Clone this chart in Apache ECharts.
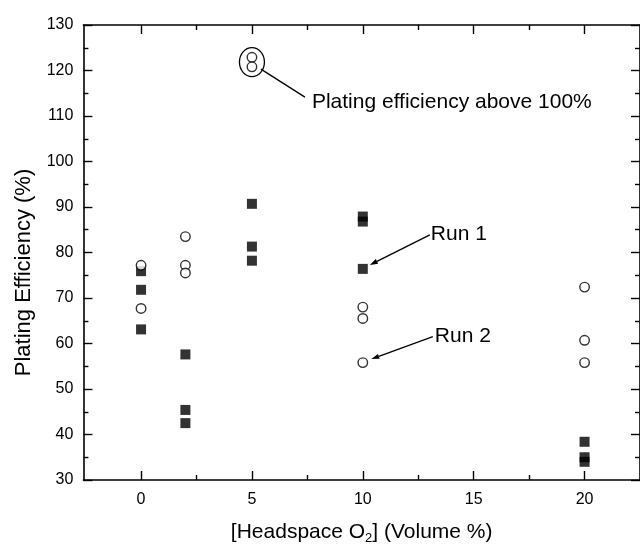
<!DOCTYPE html>
<html>
<head>
<meta charset="utf-8">
<script src="https://cdn.jsdelivr.net/npm/echarts@6/dist/echarts.min.js"></script>
<style>
  html, body { margin: 0; padding: 0; background: #fff; }
  #chart { width: 640px; height: 544px; }
</style>
</head>
<body>
<div id="chart"></div>
<script>
// Headspace O2 (volume %) and plating efficiency (%) for the two runs
const run1X = [0, 0, 0, 2, 2, 2, 5, 5, 5, 10, 10, 10, 20, 20, 20];
const run1Y = [75.9, 71.8, 63.1, 57.6, 45.4, 42.5, 90.7, 81.3, 78.2, 87.9, 86.8, 76.4, 38.4, 35.0, 34.0];
const run2X = [0, 0, 2, 2, 2, 5, 5, 10, 10, 10, 20, 20, 20];
const run2Y = [77.2, 67.7, 83.5, 77.2, 75.5, 122.9, 120.8, 68.0, 65.5, 55.8, 72.4, 60.7, 55.8];

// Axis ticks
const xMajorTicks = [0, 5, 10, 15, 20];
const xMinorTicks = [2.5, 7.5, 12.5, 17.5];

// Text
const xTitle = '[Headspace O{sub|2}] (Volume %)';
const yTitle = 'Plating Efficiency (%)';
const highNote = 'Plating efficiency above 100%';
const run1Label = 'Run 1';
const run2Label = 'Run 2';

const FONT = "'Liberation Sans', Arial, sans-serif";
const INK = '#000';

const chart = echarts.init(document.getElementById('chart'), null, { renderer: 'canvas' });

const lineStyle = { color: INK, width: 1.6 };
const tickStyle = { color: INK, width: 1.4 };

function xAxisDef(position, ticks, len, withLine, withLabels) {
  return {
    type: 'value',
    position: position,
    min: -2.6,
    max: 22.5,
    axisLine: { show: withLine, onZero: false, lineStyle: lineStyle },
    axisTick: { show: true, inside: true, length: len, customValues: ticks, lineStyle: tickStyle },
    axisLabel: withLabels
      ? { show: true, customValues: xMajorTicks, margin: 12, color: INK, fontSize: 16, fontFamily: FONT }
      : { show: false },
    splitLine: { show: false }
  };
}

function yAxisDef(position, withLabels) {
  return {
    type: 'value',
    position: position,
    min: 30,
    max: 130,
    interval: 10,
    axisLine: { show: true, onZero: false, lineStyle: lineStyle },
    axisTick: { show: true, inside: true, length: 9, lineStyle: tickStyle },
    minorTick: { show: true, splitNumber: 2, length: 5, lineStyle: tickStyle },
    axisLabel: withLabels
      ? { show: true, margin: 10, color: INK, fontSize: 16, fontFamily: FONT }
      : { show: false },
    splitLine: { show: false },
    minorSplitLine: { show: false }
  };
}

chart.setOption({
  animation: false,
  backgroundColor: '#fff',
  grid: { left: 83.4, top: 25, width: 559, height: 455, containLabel: false },
  xAxis: [
    xAxisDef('bottom', xMajorTicks, 9, true, true),
    xAxisDef('bottom', xMinorTicks, 5, false, false),
    xAxisDef('top', xMajorTicks, 9, true, false),
    xAxisDef('top', xMinorTicks, 5, false, false)
  ],
  yAxis: [yAxisDef('left', true), yAxisDef('right', false)],
  series: [
    {
      name: run1Label,
      type: 'scatter',
      xAxisIndex: 0,
      yAxisIndex: 0,
      symbol: 'rect',
      symbolSize: 10,
      itemStyle: { color: INK },
      data: run1X.map((x, i) => [x, run1Y[i]])
    },
    {
      name: run2Label,
      type: 'scatter',
      xAxisIndex: 0,
      yAxisIndex: 0,
      symbol: 'circle',
      symbolSize: 9.5,
      itemStyle: { color: '#fff', borderColor: INK, borderWidth: 1.4 },
      data: run2X.map((x, i) => [x, run2Y[i]])
    }
  ]
});

// Annotations placed relative to the points they describe
const toPx = (x, y) => chart.convertToPixel({ gridIndex: 0 }, [x, y]);

function arrow(tail, tip) {
  const dx = tip[0] - tail[0], dy = tip[1] - tail[1];
  const len = Math.hypot(dx, dy);
  const ux = dx / len, uy = dy / len;
  const headLen = 8, headHalf = 2.6;
  const bx = tip[0] - ux * headLen, by = tip[1] - uy * headLen;
  return [
    {
      type: 'line',
      shape: { x1: tail[0], y1: tail[1], x2: bx, y2: by },
      style: { stroke: INK, lineWidth: 1.3 },
      silent: true
    },
    {
      type: 'polygon',
      shape: { points: [tip, [bx - uy * headHalf, by + ux * headHalf], [bx + uy * headHalf, by - ux * headHalf]] },
      style: { fill: INK },
      silent: true
    }
  ];
}

const high = run2X.map((x, i) => [x, run2Y[i]]).filter(p => p[1] > 100);
const highCenter = toPx(high[0][0], high.reduce((s, p) => s + p[1], 0) / high.length);
const r1 = toPx(run1X[11], run1Y[11]);
const r2 = toPx(run2X[9], run2Y[9]);
const gridRect = { x: toPx(-2.6, 30)[0], y: toPx(0, 130)[1], x2: toPx(22.5, 30)[0], y2: toPx(0, 30)[1] };

const graphics = [
  {
    type: 'ellipse',
    shape: { cx: highCenter[0], cy: highCenter[1], rx: 12.5, ry: 14.5 },
    style: { fill: 'none', stroke: INK, lineWidth: 1.3 },
    silent: true
  },
  {
    type: 'line',
    shape: { x1: highCenter[0] + 9, y1: highCenter[1] + 7, x2: highCenter[0] + 53, y2: highCenter[1] + 35 },
    style: { stroke: INK, lineWidth: 1.3 },
    silent: true
  },
  {
    type: 'text',
    x: highCenter[0] + 60,
    y: highCenter[1] + 40,
    style: { text: highNote, fill: INK, font: '21px ' + FONT, align: 'left', verticalAlign: 'middle' },
    silent: true
  },
  ...arrow([r1[0] + 67, r1[1] - 34], [r1[0] + 7, r1[1] - 4]),
  {
    type: 'text',
    x: r1[0] + 68,
    y: r1[1] - 35,
    style: { text: run1Label, fill: INK, font: '21px ' + FONT, align: 'left', verticalAlign: 'middle' },
    silent: true
  },
  ...arrow([r2[0] + 70, r2[1] - 26], [r2[0] + 8.5, r2[1] - 3.5]),
  {
    type: 'text',
    x: r2[0] + 72,
    y: r2[1] - 26,
    style: { text: run2Label, fill: INK, font: '21px ' + FONT, align: 'left', verticalAlign: 'middle' },
    silent: true
  },
  {
    type: 'text',
    x: (gridRect.x + gridRect.x2) / 2,
    y: gridRect.y2 + 52,
    style: {
      text: xTitle,
      fill: INK,
      font: '21px ' + FONT,
      align: 'center',
      verticalAlign: 'middle',
      rich: {
        sub: { fontSize: 13, fontFamily: FONT, fill: INK, padding: [12, 0, 0, 0], verticalAlign: 'bottom' }
      }
    },
    silent: true
  },
  {
    type: 'text',
    x: 24,
    y: (gridRect.y + gridRect.y2) / 2 + 20,
    rotation: Math.PI / 2,
    style: { text: yTitle, fill: INK, font: '22px ' + FONT, align: 'center', verticalAlign: 'middle' },
    silent: true
  }
];

chart.setOption({ graphic: graphics });
</script>
</body>
</html>
